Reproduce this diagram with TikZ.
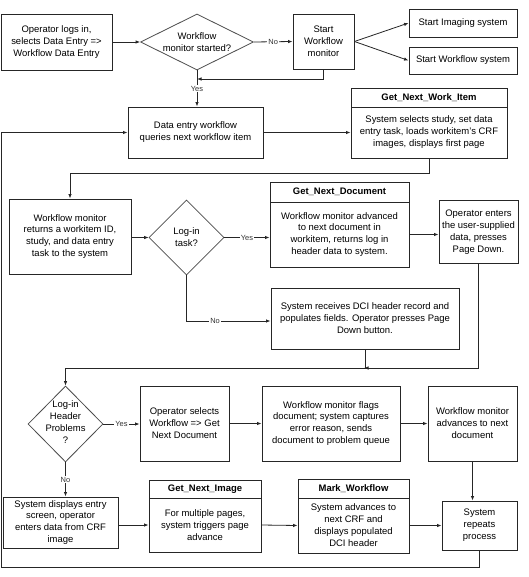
\documentclass[tikz,border=0pt]{standalone}
\usepackage{fontspec}
\setmainfont{Liberation Sans}
\usetikzlibrary{shapes.geometric,arrows.meta,calc}
\begin{document}
\begin{tikzpicture}[x=1bp,y=-1bp,
  box/.style={draw=black!85, line width=0.9bp, align=center, inner sep=0pt, fill=white,
    font=\fontsize{9.5}{12}\selectfont},
  hdr/.style={box, font=\fontsize{9.5}{12}\selectfont\bfseries},
  dia/.style={diamond, draw=black!70, line width=0.8bp, inner sep=0pt, fill=white},
  dtxt/.style={align=center, inner sep=0pt, font=\fontsize{9.5}{12}\selectfont},
  conn/.style={draw=black!85, line width=0.8bp},
  arr/.style={conn, -{Latex[length=4.5bp,width=3.5bp]}},
  lbl/.style={font=\fontsize{7.5}{9}\selectfont, fill=white, inner sep=1bp, text=black!80}
]
\useasboundingbox (0,0) rectangle (529,577);
\fill[white] (0,0) rectangle (529,577);

% row 1
\node[box, minimum width=111bp, minimum height=56bp] (op) at (56.5,42)
  {Operator logs in,\\selects Data Entry =>\\Workflow Data Entry};
\node[dia, minimum width=113bp, minimum height=56bp] (d1) at (197,42) {};
\node[dtxt] (d1t) at (d1) {Workflow\\monitor started?};
\node[box, minimum width=61bp, minimum height=55bp] (swm) at (323.5,41.5)
  {Start\\Workflow\\monitor};
\node[box, minimum width=108bp, minimum height=28bp] (sis) at (463,23) {Start Imaging system};
\node[box, minimum width=108bp, minimum height=27bp] (sws) at (463,60.5) {Start Workflow system};

% row 2
\node[box, minimum width=135bp, minimum height=51bp] (de) at (195.5,132.5)
  {Data entry workflow\\queries next workflow item};
\node[hdr, minimum width=156bp, minimum height=19bp] (gnwih) at (429,97.5) {Get\_Next\_Work\_Item};
\node[box, minimum width=156bp, minimum height=51bp] (gnwib) at (429,132.5)
  {System selects study, set data\\entry task, loads workitem's CRF\\images, displays first page};

% row 3
\node[box, minimum width=122bp, minimum height=75bp] (wmr) at (70,236.5)
  {Workflow monitor\\returns a workitem ID,\\study, and data entry\\task to the system};
\node[dia, minimum width=75bp, minimum height=75bp] (d2) at (186.5,237.5) {};
\node[dtxt] (d2t) at (d2) {Log-in\\task?};
\node[hdr, minimum width=139bp, minimum height=20bp] (gndh) at (339.5,192) {Get\_Next\_Document};
\node[box, minimum width=139bp, minimum height=65bp] (gndb) at (339.5,234.5)
  {Workflow monitor advanced\\to next document in\\workitem, returns log in\\header data to system.};
\node[box, minimum width=79bp, minimum height=63bp] (ope) at (478.5,232)
  {Operator enters\\the user-supplied\\data, presses\\Page Down.};

% row 4
\node[box, minimum width=188bp, minimum height=61bp] (srd) at (365,318.5)
  {System receives DCI header record and\\populates fields. Operator presses Page\\Down button.};

% row 5
\node[dia, minimum width=75bp, minimum height=76bp] (d3) at (65.5,424) {};
\node[dtxt] (d3t) at (65.5,422) {Log-in\\Header\\Problems\\?};
\node[box, minimum width=89bp, minimum height=75bp] (osw) at (184.5,423.5)
  {Operator selects\\Workflow => Get\\Next Document};
\node[box, minimum width=138bp, minimum height=75bp] (wmf) at (331,423.5)
  {Workflow monitor flags\\document; system captures\\error reason, sends\\document to problem queue};
\node[box, minimum width=89bp, minimum height=75bp] (wma) at (472.5,423.5)
  {Workflow monitor\\advances to next\\document};

% row 6
\node[box, minimum width=115bp, minimum height=51bp] (sde) at (60.5,522.5)
  {System displays entry\\screen, operator\\enters data from CRF\\image};
\node[hdr, minimum width=112bp, minimum height=18bp] (gnih) at (205,489) {Get\_Next\_Image};
\node[box, minimum width=112bp, minimum height=54bp] (gnib) at (205,525)
  {For multiple pages,\\system triggers page\\advance};
\node[hdr, minimum width=111bp, minimum height=19bp] (mwh) at (353.5,488.5) {Mark\_Workflow};
\node[box, minimum width=111bp, minimum height=55bp] (mwb) at (353.5,525.5)
  {System advances to\\next CRF and\\displays populated\\DCI header};
\node[box, minimum width=75bp, minimum height=49bp] (srp) at (479.5,525.5)
  {System\\repeats\\process};

% helper coordinates
\coordinate (j1) at (197,79);
\coordinate (r2) at (0,173);
\coordinate (r4) at (0,368);
\coordinate (rno) at (0,321);
\coordinate (lb) at (1.5,567);

% connectors
\draw[arr] (op.east) -- (d1.west);
\draw[arr] (d1.east) -- node[lbl] {No} (swm.west);
\draw[arr] (swm.east) -- (sis.west);
\draw[arr] (swm.east) -- (sws.west);
\draw[arr] (swm.south) |- (j1);
\draw[arr] (d1.south) -- node[lbl] {Yes} (d1.south |- de.north);
\draw[arr] (de.east) -- (gnwib.west);
\draw[arr] (gnwib.south) -- (gnwib.south |- r2) -| (wmr.north);
\draw[arr] (wmr.east |- d2) -- (d2.west);
\draw[arr] (d2.east) -- node[lbl] {Yes} (d2.east -| gndb.west);
\draw[arr] (gndb.east) -- (gndb.east -| ope.west);
\draw[arr] (d2.south) |- node[lbl, pos=0.67] {No} (srd.west |- rno);
\draw[arr] (ope.south) -- (ope.south |- r4) -| (d3.north);
\draw[arr] (srd.south) |- ($(srd.south |- r4)+(-1,0)$);
\draw[arr] (d3.east) -- node[lbl] {Yes} (d3.east -| osw.west);
\draw[arr] (osw.east) -- (wmf.west);
\draw[arr] (wmf.east) -- (wma.west);
\draw[arr] (d3.south) -- node[lbl] {No} (d3.south |- sde.north);
\draw[arr] (sde.east |- gnib.west) -- (gnib.west);
\draw[arr] (gnib.east) -- (mwb.west);
\draw[arr] (mwb.east) -- (srp.west |- mwb.east);
\draw[arr] (wma.south) -- (wma.south |- srp.north);
\draw[arr] (srp.south) |- (lb) |- (de.west);
\end{tikzpicture}
\end{document}
